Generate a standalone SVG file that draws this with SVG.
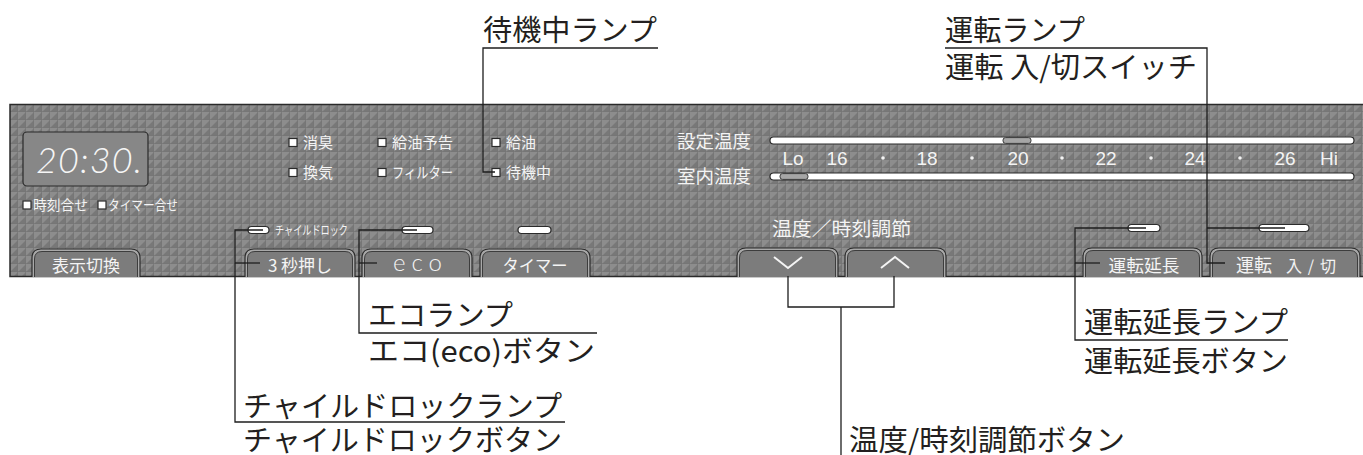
<svg xmlns="http://www.w3.org/2000/svg" width="1363" height="455" viewBox="0 0 1363 455">
<style>
.lbl{font-family:"Noto Sans CJK JP","Noto Sans",sans-serif;font-size:29px;fill:#231f20}
.pt{font-family:"Noto Sans CJK JP","Noto Sans",sans-serif;fill:#f4f4f4}
.num{font-family:"Liberation Sans","Noto Sans",sans-serif;font-size:19px;fill:#f4f4f4;text-anchor:middle}
.dot{fill:#f4f4f4}
.btn{fill:#a9a9a9;stroke:#2b2b2b;stroke-width:1.2}
.btni{fill:#7c7c7c;stroke:#333;stroke-width:0.9}
.lamp{fill:#fff;stroke:#2b2b2b;stroke-width:1.2}
.sq{fill:#fff;stroke:#2b2b2b;stroke-width:1.2}
.ln{fill:none;stroke:#1e1e1e;stroke-width:1.3}
</style>
<defs>
<pattern id="tex" x="10" y="104" width="8" height="8" patternUnits="userSpaceOnUse">
<rect width="8" height="8" fill="#787878"/>
<polygon points="0,0 8,0 0,8" fill="#8d8d8d"/>
<path d="M0 7.6H8M7.6 0V8" stroke="#747474" stroke-width="0.6"/>
</pattern>
</defs>
<rect width="1363" height="455" fill="#fff"/>

<g id="panel">
<rect x="10" y="104.5" width="1360" height="172" fill="url(#tex)" stroke="#2a2a2a" stroke-width="1.5"/>
</g>

<g id="clock">
<rect x="23" y="132" width="125" height="54" rx="4" fill="#878787" stroke="#2a2a2a" stroke-width="1.2"/>
<text x="36" y="173" font-family="Lato,'Liberation Sans',sans-serif" font-weight="300" font-style="italic" font-size="36" fill="#f6f6f6" textLength="106" lengthAdjust="spacing">20:30.</text>
</g>

<g id="clock-set">
<rect class="sq" x="23" y="201" width="8" height="8"/>
<text class="pt" x="33" y="210" font-size="13.5" textLength="55" lengthAdjust="spacingAndGlyphs">時刻合せ</text>
<rect class="sq" x="98" y="201" width="8" height="8"/>
<text class="pt" x="108" y="210" font-size="13.5" textLength="70" lengthAdjust="spacingAndGlyphs">タイマー合せ</text>
</g>

<g id="indicators">
<rect class="sq" x="289" y="138.5" width="8" height="8"/>
<text class="pt" x="303" y="148" font-size="15">消臭</text>
<rect class="sq" x="289" y="168.5" width="8" height="8"/>
<text class="pt" x="303" y="178" font-size="15">換気</text>
<rect class="sq" x="378" y="138.5" width="8" height="8"/>
<text class="pt" x="392" y="148" font-size="15" textLength="61" lengthAdjust="spacingAndGlyphs">給油予告</text>
<rect class="sq" x="378" y="168.5" width="8" height="8"/>
<text class="pt" x="392" y="178" font-size="15" textLength="61" lengthAdjust="spacingAndGlyphs">フィルター</text>
<rect class="sq" x="492" y="138.5" width="8" height="8"/>
<text class="pt" x="506" y="148" font-size="15">給油</text>
<rect class="sq" x="492" y="168.5" width="8" height="8"/>
<text class="pt" x="506" y="178" font-size="15">待機中</text>
</g>

<g id="temp-scale">
<text class="pt" x="677" y="148" font-size="18" textLength="74" lengthAdjust="spacingAndGlyphs">設定温度</text>
<text class="pt" x="677" y="183" font-size="18" textLength="74" lengthAdjust="spacingAndGlyphs">室内温度</text>
<rect x="770" y="137" width="584" height="7" rx="3.5" fill="#fff" stroke="#2b2b2b" stroke-width="1.2"/>
<rect x="1003" y="137.6" width="28" height="5.8" rx="2.5" fill="#a6a6a6" stroke="#3a3a3a" stroke-width="1"/>
<rect x="770" y="173" width="584" height="7" rx="3.5" fill="#fff" stroke="#2b2b2b" stroke-width="1.2"/>
<rect x="780" y="173.6" width="28" height="5.8" rx="2.5" fill="#a6a6a6" stroke="#3a3a3a" stroke-width="1"/>
<text class="num" x="793" y="165">Lo</text>
<text class="num" x="837" y="165">16</text>
<circle class="dot" cx="883" cy="158" r="1.8"/>
<text class="num" x="927" y="165">18</text>
<circle class="dot" cx="972" cy="158" r="1.8"/>
<text class="num" x="1018" y="165">20</text>
<circle class="dot" cx="1062" cy="158" r="1.8"/>
<text class="num" x="1106" y="165">22</text>
<circle class="dot" cx="1151" cy="158" r="1.8"/>
<text class="num" x="1195" y="165">24</text>
<circle class="dot" cx="1240" cy="158" r="1.8"/>
<text class="num" x="1285" y="165">26</text>
<text class="num" x="1329" y="165">Hi</text>
<text class="pt" x="772" y="236" font-size="19" textLength="139" lengthAdjust="spacingAndGlyphs">温度／時刻調節</text>
</g>

<g id="lamps">
<rect class="lamp" x="248" y="226.5" width="21" height="7" rx="3.5"/>
<text class="pt" x="275" y="235" font-size="12.5" textLength="73" lengthAdjust="spacingAndGlyphs">チャイルドロック</text>
<rect class="lamp" x="402" y="226.5" width="31" height="7" rx="3.5"/>
<rect class="lamp" x="518" y="226.5" width="33" height="7" rx="3.5"/>
<rect class="lamp" x="1128" y="224.5" width="32" height="7" rx="3.5"/>
<rect class="lamp" x="1259" y="224.5" width="50" height="7" rx="3.5"/>
</g>

<g id="btn-display">
<path class="btn" d="M32 277V258Q32 249 41 249H131Q140 249 140 258V277"/>
<path class="btni" d="M34.5 277V259Q34.5 251.5 42 251.5H130Q137.5 251.5 137.5 259V277"/>
<text class="pt" x="86" y="272" font-size="17" text-anchor="middle">表示切換</text>
</g>
<g id="btn-3sec">
<path class="btn" d="M245 277V258Q245 249 254 249H346Q355 249 355 258V277"/>
<path class="btni" d="M247.5 277V259Q247.5 251.5 255 251.5H345Q352.5 251.5 352.5 259V277"/>
<text class="pt" x="300" y="272" font-size="17" text-anchor="middle">3 秒押し</text>
</g>
<g id="btn-eco">
<path class="btn" d="M362 277V258Q362 249 371 249H463Q472 249 472 258V277"/>
<path class="btni" d="M364.5 277V259Q364.5 251.5 372 251.5H462Q469.5 251.5 469.5 259V277"/>
<text x="393" y="271" font-family="Lato,'Liberation Sans',sans-serif" font-weight="300" font-size="24" fill="#f4f4f4" textLength="49" lengthAdjust="spacing">eco</text>
</g>
<g id="btn-timer">
<path class="btn" d="M480 277V258Q480 249 489 249H581Q590 249 590 258V277"/>
<path class="btni" d="M482.5 277V259Q482.5 251.5 490 251.5H580Q587.5 251.5 587.5 259V277"/>
<text class="pt" x="535" y="272" font-size="17" text-anchor="middle" textLength="65" lengthAdjust="spacingAndGlyphs">タイマー</text>
</g>
<g id="btn-down">
<path class="btn" d="M737 277V257Q737 248 746 248H829Q838 248 838 257V277"/>
<path class="btni" d="M739.5 277V258Q739.5 250.5 747 250.5H828Q835.5 250.5 835.5 258V277"/>
<path d="M774 257L788 268L802 257" fill="none" stroke="#f4f4f4" stroke-width="2"/>
</g>
<g id="btn-up">
<path class="btn" d="M845 277V257Q845 248 854 248H937Q946 248 946 257V277"/>
<path class="btni" d="M847.5 277V258Q847.5 250.5 855 250.5H936Q943.5 250.5 943.5 258V277"/>
<path d="M881 268L895 257L909 268" fill="none" stroke="#f4f4f4" stroke-width="2"/>
</g>
<g id="btn-extend">
<path class="btn" d="M1083 277V257Q1083 248 1092 248H1193Q1202 248 1202 257V277"/>
<path class="btni" d="M1085.5 277V258Q1085.5 250.5 1093 250.5H1192Q1199.5 250.5 1199.5 258V277"/>
<text class="pt" x="1144" y="272" font-size="17" text-anchor="middle" textLength="71" lengthAdjust="spacingAndGlyphs">運転延長</text>
</g>
<g id="btn-power">
<path class="btn" d="M1210 277V257Q1210 248 1219 248H1351Q1360 248 1360 257V277"/>
<path class="btni" d="M1212.5 277V258Q1212.5 250.5 1220 250.5H1350Q1357.5 250.5 1357.5 258V277"/>
<text class="pt" x="1236" y="272" font-size="18">運転</text>
<text class="pt" x="1286" y="272" font-size="16" textLength="50" lengthAdjust="spacing">入 / 切</text>
</g>

<g id="connectors">
<polyline class="ln" points="658,48 483,48 483,172 495,172"/>
<polyline class="ln" points="945,48 1207,48 1207,263 1225,263"/>
<line class="ln" x1="1207" y1="228" x2="1285" y2="228"/>
<polyline class="ln" points="1146,228 1075,228 1075,340 1288,340"/>
<line class="ln" x1="1075" y1="263" x2="1100" y2="263"/>
<polyline class="ln" points="788,276 788,307 894,307 894,276"/>
<line class="ln" x1="841" y1="307" x2="841" y2="455"/>
<polyline class="ln" points="417,230 359,230 359,333 597,333"/>
<line class="ln" x1="359" y1="263" x2="377" y2="263"/>
<polyline class="ln" points="263,230 235,230 235,422 565,422"/>
<line class="ln" x1="235" y1="263" x2="260" y2="263"/>
</g>

<g id="labels">
<text class="lbl" x="483" y="41" textLength="174" lengthAdjust="spacingAndGlyphs">待機中ランプ</text>
<text class="lbl" x="945" y="41" textLength="140" lengthAdjust="spacingAndGlyphs">運転ランプ</text>
<text class="lbl" x="945" y="78" textLength="252" lengthAdjust="spacingAndGlyphs">運転 入/切スイッチ</text>
<text class="lbl" x="368" y="326" textLength="145" lengthAdjust="spacingAndGlyphs">エコランプ</text>
<text class="lbl" x="368" y="362" textLength="227" lengthAdjust="spacingAndGlyphs">エコ(eco)ボタン</text>
<text class="lbl" x="243" y="417" textLength="319" lengthAdjust="spacingAndGlyphs">チャイルドロックランプ</text>
<text class="lbl" x="243" y="451" textLength="319" lengthAdjust="spacingAndGlyphs">チャイルドロックボタン</text>
<text class="lbl" x="1084" y="333" textLength="204" lengthAdjust="spacingAndGlyphs">運転延長ランプ</text>
<text class="lbl" x="1084" y="372" textLength="204" lengthAdjust="spacingAndGlyphs">運転延長ボタン</text>
<text class="lbl" x="849" y="451" textLength="276" lengthAdjust="spacingAndGlyphs">温度/時刻調節ボタン</text>
</g>
</svg>
